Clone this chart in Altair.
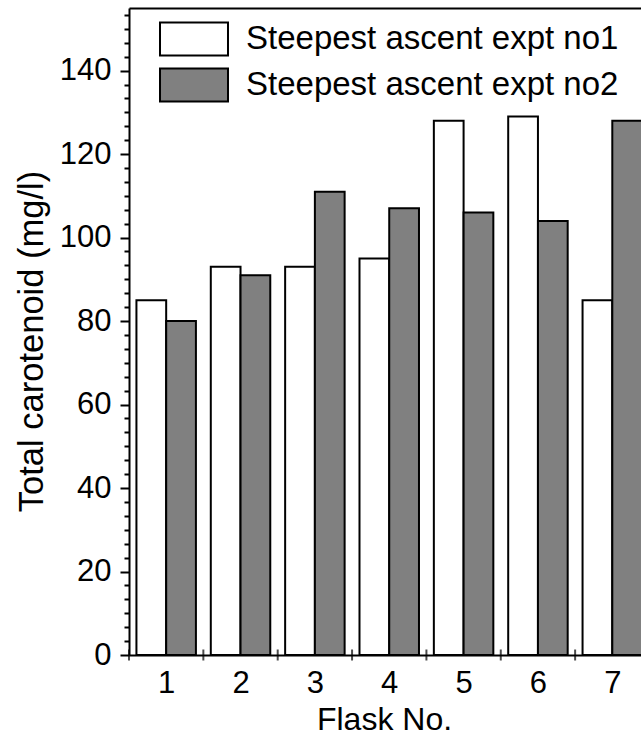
import altair as alt
import pandas as pd

# Total carotenoid per flask for the two steepest-ascent experiments
flasks = [1, 2, 3, 4, 5, 6, 7]
expt_no1 = [85, 93, 93, 95, 128, 129, 85]
expt_no2 = [80, 91, 111, 107, 106, 104, 128]
series_names = ["Steepest ascent expt no1", "Steepest ascent expt no2"]
series_colors = ["#ffffff", "#808080"]

major_y = [0, 20, 40, 60, 80, 100, 120, 140]
minor_y = [round(i * 20 / 6, 3) for i in range(47) if i % 6 != 0]

FONT = "Liberation Sans"
BAR_W = 0.4

rows = []
for side, (name, vals) in enumerate(zip(series_names, [expt_no1, expt_no2])):
    for f, v in zip(flasks, vals):
        rows.append({"flask": f, "series": name, "side": side, "value": v})
bars_df = pd.DataFrame(rows)
bounds_df = pd.DataFrame({"flask": flasks})

x_scale = alt.Scale(domain=[0.5, 7.386], nice=False, zero=False)
y_scale = alt.Scale(domain=[0, 155], nice=False, zero=True)

bars = (
    alt.Chart(bars_df)
    .transform_calculate(
        x0=f"datum.flask - {BAR_W} + datum.side * {BAR_W}",
        x1=f"datum.flask + datum.side * {BAR_W}",
    )
    .mark_bar(stroke="black", strokeWidth=2, clip=True)
    .encode(
        x=alt.X(
            "x0:Q",
            scale=x_scale,
            axis=alt.Axis(
                orient="bottom",
                values=flasks,
                format="d",
                ticks=False,
                domainColor="black",
                domainWidth=2,
                labelFont=FONT,
                labelFontSize=31,
                labelColor="black",
                labelBaseline="alphabetic",
                labelPadding=37,
                title="Flask No.",
                titleFont=FONT,
                titleFontSize=32,
                titleFontWeight="normal",
                titleColor="black",
                titleBaseline="alphabetic",
                titleX=255,
                titleY=74,
                grid=False,
            ),
        ),
        x2="x1:Q",
        y=alt.Y(
            "value:Q",
            scale=y_scale,
            axis=alt.Axis(
                orient="left",
                values=major_y,
                tickSize=9,
                tickWidth=2,
                tickColor="black",
                domainColor="black",
                domainWidth=2,
                labelFont=FONT,
                labelFontSize=31,
                labelColor="black",
                labelPadding=9,
                title="Total carotenoid (mg/l)",
                titleFont=FONT,
                titleFontSize=34.5,
                titleFontWeight="normal",
                titleColor="black",
                titleBaseline="alphabetic",
                titleAngle=270,
                titleX=-87,
                titleY=333,
                grid=False,
            ),
        ),
        y2=alt.Y2(datum=0),
        fill=alt.Fill(
            "series:N",
            scale=alt.Scale(domain=series_names, range=series_colors),
            legend=alt.Legend(
                title=None,
                orient="none",
                legendX=41,
                legendY=7,
                symbolType="M-1.478,-0.717H1.478V0.717H-1.478Z",
                symbolSize=2116,
                symbolStrokeColor="black",
                symbolStrokeWidth=2,
                symbolFillColor="white",
                labelFont=FONT,
                labelFontSize=33,
                labelColor="black",
                labelOffset=28,
                labelLimit=500,
                rowPadding=1,
                padding=0,
            ),
        ),
    )
)

# Category-boundary ticks crossing the x axis, plus the top frame line and minor y ticks
bounds = (
    alt.Chart(bounds_df)
    .transform_calculate(edge="datum.flask - 0.5")
    .mark_tick(orient="vertical", size=11, thickness=2, color="black", clip=False)
    .encode(
        x=alt.X(
            "edge:Q",
            scale=x_scale,
            axis=alt.Axis(
                orient="top",
                ticks=False,
                labels=False,
                title=None,
                domainColor="black",
                domainWidth=2,
                grid=False,
            ),
        ),
        y=alt.Y(
            datum=0,
            type="quantitative",
            scale=y_scale,
            axis=alt.Axis(
                orient="left",
                values=minor_y,
                tickSize=5,
                tickWidth=2,
                tickColor="black",
                labels=False,
                domain=False,
                title=None,
                grid=False,
            ),
        ),
    )
)

chart = (
    alt.layer(bars, bounds)
    .resolve_axis(x="independent", y="independent")
    .properties(
        width=512,
        height=647,
        autosize=alt.AutoSizeParams(type="none"),
        padding={"left": 129, "top": 8, "right": 0, "bottom": 80},
        background="white",
    )
    .configure_view(stroke="transparent")
)

chart.save("out.html", embed_options={"renderer": "svg", "actions": False})
